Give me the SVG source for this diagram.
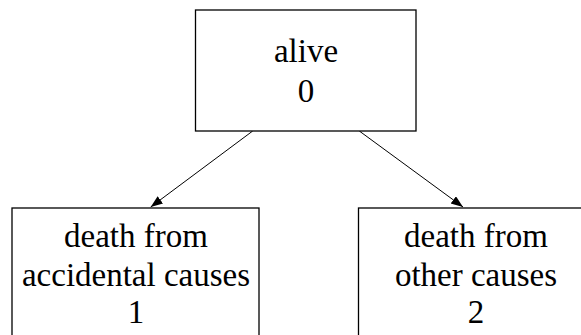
<svg xmlns="http://www.w3.org/2000/svg" width="581" height="335" viewBox="0 0 581 335">
  <style>
    .box { fill: #ffffff; stroke: #000000; stroke-width: 1.3; }
    .lbl { font-family: "Liberation Serif", "DejaVu Serif", serif; font-size: 33px; fill: #000000; text-anchor: middle; }
    .edge { stroke: #000000; stroke-width: 1; fill: none; }
  </style>
  <defs>
    <marker id="arrow" markerUnits="userSpaceOnUse" markerWidth="12" markerHeight="10" refX="12" refY="4.5" orient="auto">
      <path d="M0,0 L12,4.5 L0,9 z" fill="#000000"/>
    </marker>
  </defs>
  <rect width="581" height="335" fill="#ffffff"/>
  <g id="connectors">
    <line class="edge" x1="252.7" y1="131" x2="150.7" y2="207" marker-end="url(#arrow)"/>
    <line class="edge" x1="359.3" y1="131" x2="463" y2="207" marker-end="url(#arrow)"/>
  </g>
  <g id="node-alive">
    <rect class="box" x="195.5" y="10" width="220.5" height="121"/>
    <text class="lbl" x="306" y="62">alive</text>
    <text class="lbl" x="306" y="102">0</text>
  </g>
  <g id="node-accidental">
    <rect class="box" x="12" y="208" width="247" height="140"/>
    <text class="lbl" x="136" y="247">death from</text>
    <text class="lbl" x="136" y="286">accidental causes</text>
    <text class="lbl" x="136" y="323">1</text>
  </g>
  <g id="node-other">
    <rect class="box" x="358.5" y="208" width="236" height="140"/>
    <text class="lbl" x="476" y="247">death from</text>
    <text class="lbl" x="476" y="286">other causes</text>
    <text class="lbl" x="476" y="323">2</text>
  </g>
</svg>
